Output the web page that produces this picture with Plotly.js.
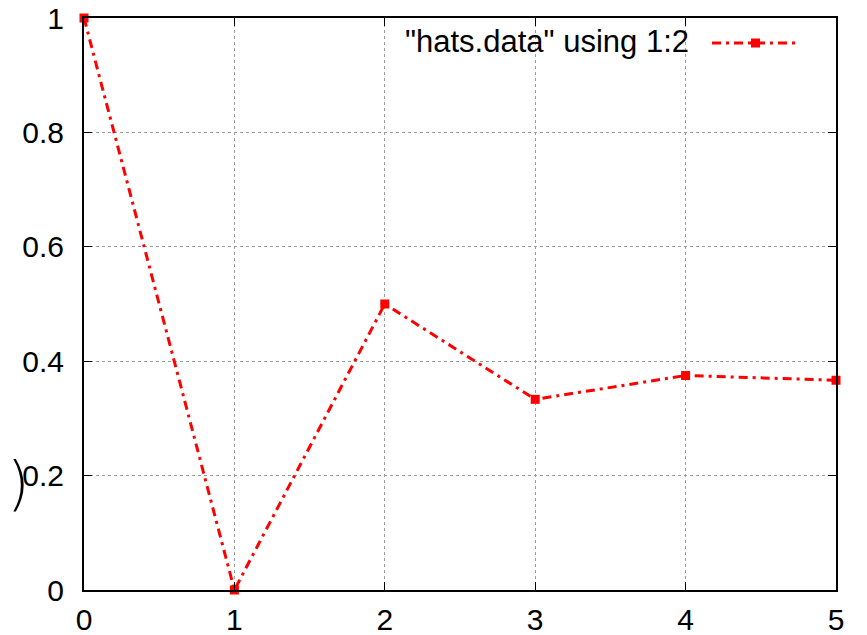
<!DOCTYPE html>
<html><head><meta charset="utf-8">
<script src="https://cdn.plot.ly/plotly-3.0.1.min.js"></script>
<style>html,body{margin:0;padding:0;background:#fff}#c{width:867px;height:635px}</style>
</head><body><div id="c"></div>
<script>
const xValues = [0, 1, 2, 3, 4, 5];
const yValues = [1, 0, 0.5, 0.3333, 0.375, 0.3667];
const seriesName = '"hats.data" using 1:2';
const xTicks = [0, 1, 2, 3, 4, 5];
const yTicks = [0, 0.2, 0.4, 0.6, 0.8, 1];
const yTickText = ['0', '0.2', '0.4', '0.6', '0.8', '1'];

const red = '#ff0000';
const fam = 'Liberation Sans, Arial, sans-serif';
const font = {family: fam, size: 30, color: '#000'};

const trace = {
  x: xValues, y: yValues, name: seriesName, type: 'scatter', mode: 'lines+markers',
  line: {color: red, width: 3, dash: '9px,5px,3px,5px'},
  marker: {symbol: 'square', size: 9, color: red},
  cliponaxis: false, showlegend: false
};

const layout = {
  width: 867, height: 635,
  margin: {l: 84, r: 31, t: 18, b: 45},
  paper_bgcolor: '#fff', plot_bgcolor: '#fff',
  font: font,
  showlegend: false,
  xaxis: {
    range: [0, 5], tickvals: xTicks, ticktext: xTicks.map(String),
    ticks: 'inside', ticklen: 8, tickwidth: 1, tickcolor: '#000',
    showline: true, linecolor: '#000', linewidth: 2, mirror: 'ticks',
    showgrid: true, gridcolor: '#9a9a9a', gridwidth: 1, griddash: 'dot',
    zeroline: false, ticklabelstandoff: 2, tickfont: font
  },
  yaxis: {
    range: [0, 1], tickvals: yTicks, ticktext: yTickText,
    ticks: 'inside', ticklen: 8, tickwidth: 1, tickcolor: '#000',
    showline: true, linecolor: '#000', linewidth: 2, mirror: 'ticks',
    showgrid: true, gridcolor: '#9a9a9a', gridwidth: 1, griddash: 'dot',
    zeroline: false, ticklabelstandoff: 12, tickfont: font
  },
  shapes: [
    {type: 'rect', xref: 'paper', yref: 'paper', layer: 'between',
     x0: (390-84)/752, x1: (815-84)/752, y0: (590-57)/572, y1: (590-27)/572,
     fillcolor: '#fff', line: {width: 0}},
    {type: 'line', xref: 'paper', yref: 'paper', layer: 'above',
     x0: (712-84)/752, x1: (797-84)/752, y0: (590-43)/572, y1: (590-43)/572,
     line: {color: red, width: 3, dash: '9px,5px,3px,5px'}},
    {type: 'rect', xref: 'paper', yref: 'paper', layer: 'above',
     x0: (751-84)/752, x1: (760-84)/752, y0: (590-47.5)/572, y1: (590-38.5)/572,
     fillcolor: red, line: {width: 0}}
  ],
  annotations: [
    {text: seriesName, xref: 'paper', yref: 'paper', x: (691-84)/752, y: (590-41)/572,
     xanchor: 'right', yanchor: 'middle', showarrow: false,
     font: {family: fam, size: 31, color: '#000'}},
    {text: ')', xref: 'paper', yref: 'paper', x: (32-84)/752, y: (590-484)/572,
     xanchor: 'right', yanchor: 'middle', showarrow: false,
     font: {family: 'DejaVu Sans, sans-serif', size: 58, color: '#000', weight: 200}}
  ]
};

Plotly.newPlot('c', [trace], layout, {displayModeBar: false, staticPlot: true});
</script>
</body></html>
